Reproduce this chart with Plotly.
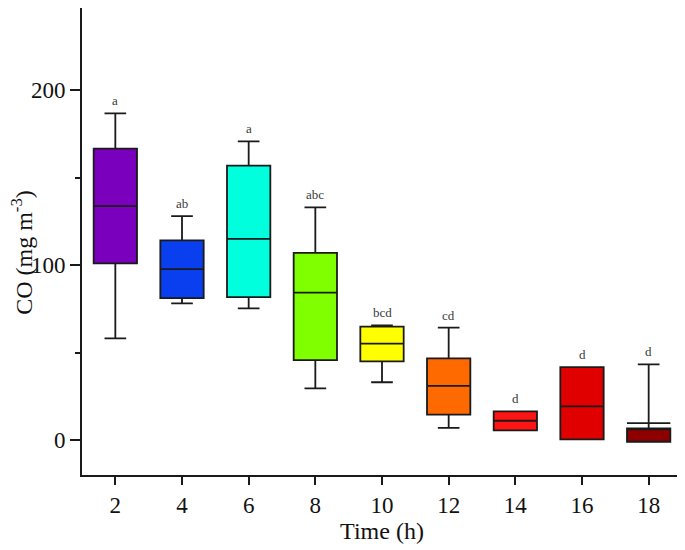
import plotly.graph_objects as go

# Data
times = [2, 4, 6, 8, 10, 12, 14, 16, 18]
lower_fence = [58.1, 78.1, 75.2, 29.5, 33.0, 6.9, 5.5, 0.4, -1.0]
q1 = [101.0, 81.1, 81.7, 45.7, 44.9, 14.5, 5.5, 0.4, -1.0]
median = [133.7, 97.7, 114.9, 84.2, 55.1, 30.9, 11.0, 19.2, 9.7]
q3 = [166.5, 114.1, 156.8, 106.9, 64.8, 46.7, 16.4, 41.7, 6.7]
upper_fence = [186.7, 128.0, 170.7, 133.0, 65.5, 64.2, 16.4, 41.7, 43.2]
letters = ["a", "ab", "a", "abc", "bcd", "cd", "d", "d", "d"]
colors = ["#7A00BE", "#0A3FF0", "#00FFDC", "#80FF00", "#FFFF00",
          "#FF6A00", "#FF1414", "#E00000", "#8E0000"]
y_ticks = [0, 100, 200]
y_minor = [50, 150]

font_family = "Liberation Serif, Times New Roman, serif"
box_width = 1.3
line_col = "#1a1a1a"

fig = go.Figure()
for i, t in enumerate(times):
    med_drawn = min(max(median[i], q1[i]), q3[i])
    fig.add_trace(go.Box(
        x=[t], q1=[q1[i]], median=[med_drawn], q3=[q3[i]],
        lowerfence=[lower_fence[i]], upperfence=[upper_fence[i]],
        width=box_width, whiskerwidth=0.5,
        fillcolor=colors[i],
        line=dict(color=line_col, width=1.8),
        showlegend=False, hoverinfo="skip", boxpoints=False,
    ))
    if med_drawn != median[i]:
        # median drawn outside the box, as in the reference
        fig.add_shape(type="line", xref="x", yref="y",
                      x0=t - box_width / 2, x1=t + box_width / 2,
                      y0=median[i], y1=median[i],
                      line=dict(color=line_col, width=1.8))
    fig.add_annotation(
        x=t, y=upper_fence[i], text=letters[i], showarrow=False,
        yanchor="bottom", yshift=3, xanchor="center",
        font=dict(family=font_family, size=13, color="#3a3a3a"),
    )

# Y-axis title as rotated annotation (sits slightly below plot centre)
fig.add_annotation(
    xref="paper", yref="paper", x=-0.099, y=0.477,
    xanchor="center", yanchor="middle", textangle=-90,
    text="CO (mg m<sup>-3</sup>)", showarrow=False,
    font=dict(family=font_family, size=24, color="#111111"),
)

fig.update_layout(
    width=677, height=542,
    margin=dict(l=74, r=3, t=0, b=75, autoexpand=False),
    paper_bgcolor="white", plot_bgcolor="white",
    font=dict(family=font_family, size=23, color="#111111"),
    xaxis=dict(
        range=[1, 19], tickmode="array", tickvals=times,
        ticktext=[str(t) for t in times],
        showline=True, linecolor=line_col, linewidth=1.8,
        ticks="outside", ticklen=8, tickwidth=1.8, tickcolor=line_col,
        showgrid=False, zeroline=False,
        title=dict(text="Time (h)", standoff=6,
                   font=dict(family=font_family, size=24)),
        tickfont=dict(family=font_family, size=23),
    ),
    yaxis=dict(
        range=[-20, 246.9], tickmode="array", tickvals=y_ticks,
        showline=True, linecolor=line_col, linewidth=1.8,
        ticks="outside", ticklen=10, tickwidth=1.8, tickcolor=line_col,
        minor=dict(tickvals=y_minor, ticks="outside", ticklen=5,
                   tickwidth=1.8, tickcolor=line_col, showgrid=False),
        showgrid=False, zeroline=False,
        tickfont=dict(family=font_family, size=23),
    ),
)

fig.write_html("out.html")
